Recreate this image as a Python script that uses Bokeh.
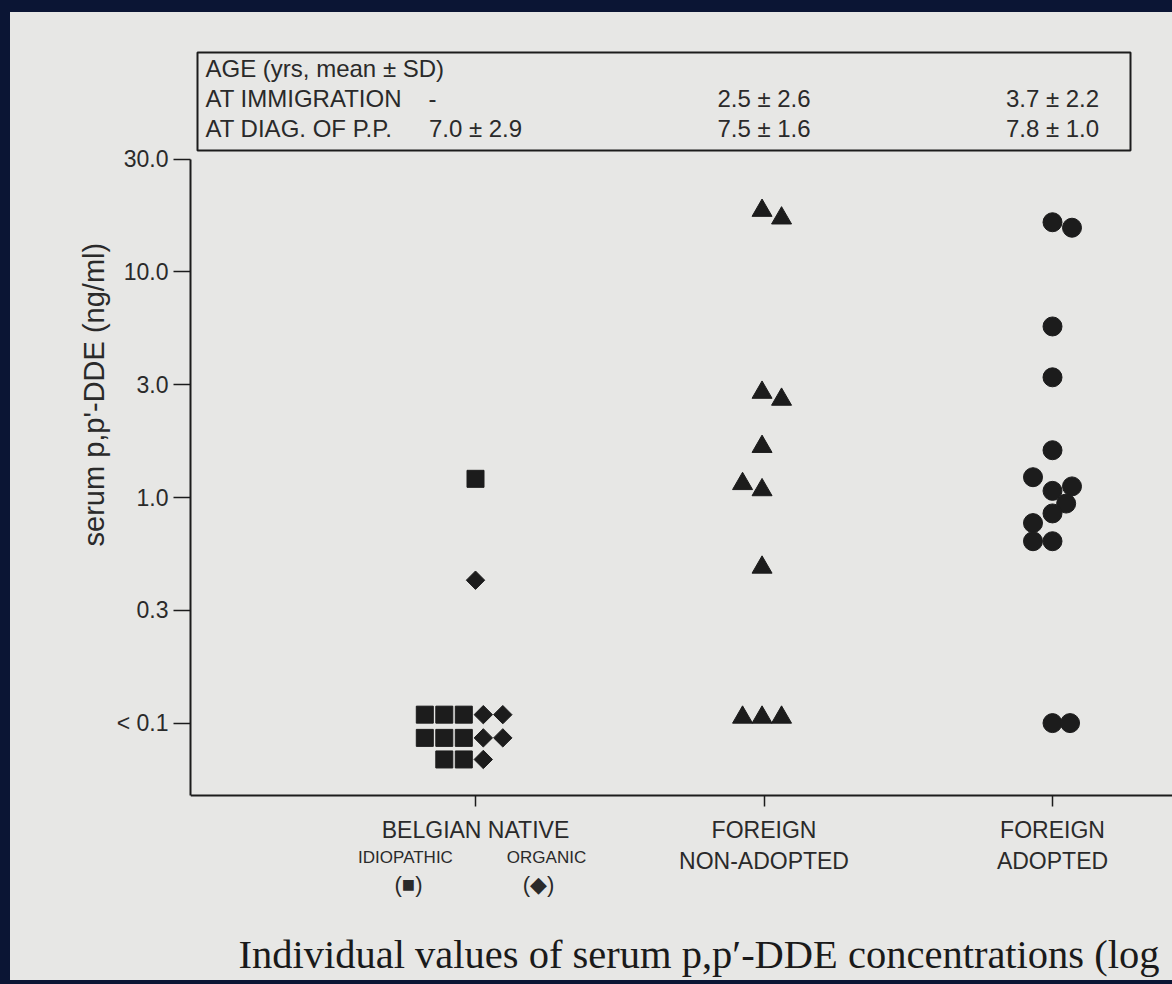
import math
from bokeh.plotting import figure
from bokeh.models import Range1d, FixedTicker, Label, BoxAnnotation, Title
from bokeh.embed import file_html
from bokeh.resources import INLINE

# ---------------- data ----------------
group_names = ["BELGIAN NATIVE", "FOREIGN\nNON-ADOPTED", "FOREIGN\nADOPTED"]
group_pos = [1, 2, 3]
belgian_sub = ["IDIOPATHIC", "ORGANIC"]
belgian_sym = ["(\u25a0)", "(\u25c6)"]

# Belgian native, idiopathic (squares)  -- values in ng/ml, dx = offset in marker slots
idio_val = [1.21, 0.109, 0.109, 0.109, 0.086, 0.086, 0.086, 0.069, 0.069]
idio_dx = [0.0, -2.6, -1.6, -0.6, -2.6, -1.6, -0.6, -1.6, -0.6]

# Belgian native, organic (diamonds)
org_val = [0.43, 0.109, 0.109, 0.086, 0.086, 0.069]
org_dx = [0.0, 0.4, 1.4, 0.4, 1.4, 0.4]

# Foreign non-adopted (triangles)
nonad_val = [18.7, 17.3, 2.92, 2.72, 1.68, 1.15, 1.08, 0.49, 0.106, 0.106, 0.106]
nonad_dx = [-0.1, 0.9, -0.1, 0.9, -0.1, -1.1, -0.1, -0.1, -1.1, -0.1, 0.9]

# Foreign adopted (circles)
adopt_val = [16.6, 15.7, 5.73, 3.41, 1.62, 1.23, 1.07, 1.12, 0.94, 0.85, 0.77, 0.64, 0.64, 0.1, 0.1]
adopt_dx = [0.0, 1.0, 0.0, 0.0, 0.0, -1.0, 0.0, 1.0, 0.7, 0.0, -1.0, -1.0, 0.0, 0.0, 0.9]

y_tick_exp = [-1.0, -0.5, 0.0, 0.5, 1.0, 1.5]
y_tick_labels = ["< 0.1", "0.3", "1.0", "3.0", "10.0", "30.0"]
y_label = "serum p,p'-DDE (ng/ml)"

age_rows = ["AGE (yrs, mean \u00b1 SD)", "AT IMMIGRATION", "AT DIAG. OF P.P."]
age_immigration = ["-", "2.5 \u00b1 2.6", "3.7 \u00b1 2.2"]
age_diagnosis = ["7.0 \u00b1 2.9", "7.5 \u00b1 1.6", "7.8 \u00b1 1.0"]

caption = "Individual values of serum p,p\u2032-DDE concentrations (log"

# ---------------- layout (page pixels) ----------------
PAGE_X0, PAGE_Y0 = 10, 12          # where the canvas starts on the page
W, H = 1162, 968
FRAME_L, FRAME_T, FRAME_B = 190, 40, PAGE_Y0 + H
AXIS_Y = 795                       # page y of the x axis
ONE_Y = 497                        # page y of 1.0
DEC_PX = 225.6
G1_X, GROUP_PX = 475, 288.5
SLOT = 19.5 / GROUP_PX

def dx_(px):   # page x -> data x
    return 1 + (px - G1_X) / GROUP_PX

def sx(px):    # page x -> screen units of annotations (frame left)
    return px - FRAME_L

def sy(py):    # page y -> screen units of annotations (frame bottom, upward)
    return FRAME_B - py

x_start = dx_(FRAME_L)
x_end = dx_(PAGE_X0 + W)
y_lo = 10 ** (-(FRAME_B - ONE_Y) / DEC_PX)
y_hi = 10 ** ((ONE_Y - FRAME_T) / DEC_PX)
y_axis = 10 ** (-(AXIS_Y - ONE_Y) / DEC_PX)

PAPER = "#e7e7e5"
NAVY = "#0b1534"
INK = "#1c1c1c"
TXT = "#2a2a2a"
SANS = "Liberation Sans"

p = figure(width=W, height=H, output_backend="svg", toolbar_location=None,
           x_range=Range1d(x_start, x_end), y_range=Range1d(y_lo, y_hi),
           y_axis_type="log",
           min_border_left=FRAME_L - PAGE_X0, min_border_right=0,
           min_border_top=FRAME_T - PAGE_Y0, min_border_bottom=0)
p.background_fill_color = PAPER
p.border_fill_color = PAPER
p.outline_line_color = None
p.grid.visible = False

# y axis
yt = [10 ** e for e in y_tick_exp]
p.yaxis.ticker = FixedTicker(ticks=yt, minor_ticks=[])
p.yaxis.major_label_overrides = {t: l for t, l in zip(yt, y_tick_labels)}
p.yaxis.bounds = (y_axis, 10 ** 1.5)
p.yaxis.axis_line_width = 2
p.yaxis.axis_line_color = INK
p.yaxis.major_tick_line_color = INK
p.yaxis.major_tick_line_width = 1.5
p.yaxis.major_tick_out = 17
p.yaxis.major_tick_in = 0
p.yaxis.minor_tick_line_color = None
p.yaxis.major_label_text_font = SANS
p.yaxis.major_label_text_font_size = "23px"
p.yaxis.major_label_text_color = TXT
p.yaxis.major_label_standoff = 5

p.add_layout(Title(text=y_label, align="left", offset=FRAME_B - 546, standoff=8,
                   text_font=SANS, text_font_size="29px", text_font_style="normal",
                   text_color=TXT), "left")

# x axis, fixed at its place so that the texts below it stay inside the frame
p.xaxis.fixed_location = y_axis
p.xaxis.ticker = FixedTicker(ticks=group_pos)
p.xaxis.major_label_overrides = {g: n for g, n in zip(group_pos, group_names)}
p.xaxis.axis_line_width = 2
p.xaxis.axis_line_color = INK
p.xaxis.major_tick_line_color = INK
p.xaxis.major_tick_line_width = 1.5
p.xaxis.major_tick_out = 11
p.xaxis.major_tick_in = 0
p.xaxis.minor_tick_line_color = None
p.xaxis.major_label_text_font = SANS
p.xaxis.major_label_text_font_size = "23px"
p.xaxis.major_label_text_color = TXT
p.xaxis.major_label_standoff = 10

# markers
def xs(g, dx):
    return [g + d * SLOT for d in dx]

p.scatter(xs(1, idio_dx), idio_val, marker="square", size=17, color=INK)
p.scatter(xs(1, org_dx), org_val, marker="square", angle=math.pi / 4, size=13, color=INK)
p.scatter(xs(2, nonad_dx), nonad_val, marker="triangle", size=20, color=INK)
p.scatter(xs(3, adopt_dx), adopt_val, marker="circle", size=19, color=INK)

# age table
p.add_layout(BoxAnnotation(left=sx(197), right=sx(1130), bottom=sy(150), top=sy(52),
                           left_units="screen", right_units="screen",
                           bottom_units="screen", top_units="screen",
                           fill_alpha=0, line_color=INK, line_alpha=1, line_width=2))
row_py = [68, 98, 128]
TFS = "24px"
for txt, py in zip(age_rows, row_py):
    p.add_layout(Label(x=sx(205), y=sy(py), x_units="screen", y_units="screen", text=txt,
                       text_font=SANS, text_font_size=TFS, text_color=TXT,
                       text_baseline="middle", text_align="left"))
for i, txt in enumerate(age_immigration):
    xpos = dx_(432) if txt == "-" else group_pos[i]
    p.add_layout(Label(x=xpos, y=sy(row_py[1]), y_units="screen", text=txt,
                       text_font=SANS, text_font_size=TFS, text_color=TXT,
                       text_baseline="middle", text_align="center"))
for i, txt in enumerate(age_diagnosis):
    p.add_layout(Label(x=group_pos[i], y=sy(row_py[2]), y_units="screen", text=txt,
                       text_font=SANS, text_font_size=TFS, text_color=TXT,
                       text_baseline="middle", text_align="center"))

# sub-labels of the Belgian group
for txt, px in zip(belgian_sub, [405, 546]):
    p.add_layout(Label(x=dx_(px), y=sy(857), y_units="screen", text=txt,
                       text_font=SANS, text_font_size="17px", text_color=TXT,
                       text_baseline="middle", text_align="center"))
for txt, px in zip(belgian_sym, [408, 538]):
    p.add_layout(Label(x=dx_(px), y=sy(884), y_units="screen", text=txt,
                       text_font=SANS, text_font_size="22px", text_color=TXT,
                       text_baseline="middle", text_align="center"))

# caption
p.add_layout(Label(x=sx(238), y=sy(954), x_units="screen", y_units="screen", text=caption,
                   text_font="Liberation Serif", text_font_size="40.5px", text_color="#1a1a1a",
                   text_baseline="middle", text_align="left"))

html = file_html(p, INLINE)
css = ("<style>html{background:%s !important;}"
       "body{margin:%dpx 0 0 %dpx !important;padding:0 !important;width:%dpx !important;"
       "height:%dpx !important;background:%s !important;overflow:hidden;}</style></head>"
       % (NAVY, PAGE_Y0, PAGE_X0, W, H, PAPER))
html = html.replace("</head>", css, 1)
open("out.html", "w").write(html)
